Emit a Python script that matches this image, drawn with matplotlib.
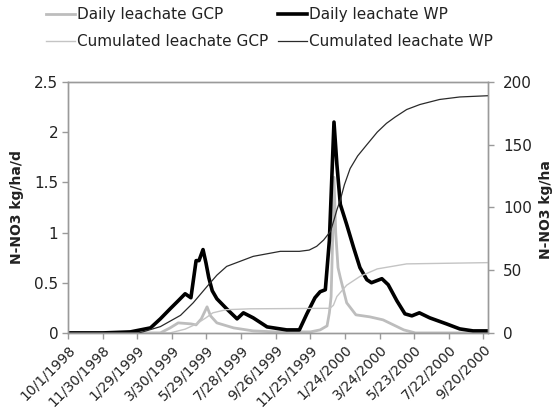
import pandas as pd
import matplotlib
matplotlib.use("Agg")
import matplotlib.pyplot as plt
from matplotlib.ticker import FuncFormatter

# ----------------------------
# values
# ----------------------------
daily_wp_dates = ["1998-10-01", "1998-12-01", "1999-01-17", "1999-02-21", "1999-03-10",
                  "1999-03-27", "1999-04-10", "1999-04-22", "1999-05-02", "1999-05-11",
                  "1999-05-16", "1999-05-23", "1999-05-28", "1999-06-02", "1999-06-08",
                  "1999-06-16", "1999-07-03", "1999-07-21", "1999-08-01", "1999-08-18",
                  "1999-09-11", "1999-10-15", "1999-11-06", "1999-11-19", "1999-12-03",
                  "1999-12-12", "1999-12-21", "1999-12-28", "2000-01-01", "2000-01-05",
                  "2000-01-10", "2000-01-16", "2000-01-27", "2000-02-08", "2000-02-19",
                  "2000-03-02", "2000-03-10", "2000-03-28", "2000-04-08", "2000-04-23",
                  "2000-05-07", "2000-05-19", "2000-06-01", "2000-06-19", "2000-07-18",
                  "2000-08-10", "2000-09-02", "2000-09-28"]
daily_wp = [0.0, 0.0, 0.01, 0.05, 0.14,
            0.24, 0.32, 0.39, 0.35, 0.72,
            0.72, 0.83, 0.70, 0.55, 0.42,
            0.34, 0.24, 0.14, 0.20, 0.15,
            0.06, 0.03, 0.03, 0.19, 0.35,
            0.41, 0.43, 0.92, 1.51, 2.10,
            1.68, 1.28, 1.08, 0.85, 0.65,
            0.53, 0.50, 0.54, 0.48, 0.32,
            0.19, 0.17, 0.20, 0.15, 0.09,
            0.04, 0.02, 0.02]

daily_gcp_dates = ["1998-10-01", "1999-03-10", "1999-03-27", "1999-04-10", "1999-05-02",
                   "1999-05-11", "1999-05-20", "1999-05-30", "1999-06-05", "1999-06-16",
                   "1999-07-15", "1999-08-18", "1999-09-26", "1999-11-25", "1999-12-12",
                   "1999-12-24", "1999-12-28", "1999-12-31", "2000-01-03", "2000-01-05",
                   "2000-01-08", "2000-01-12", "2000-01-16", "2000-01-27", "2000-02-12",
                   "2000-03-07", "2000-03-30", "2000-04-17", "2000-05-05", "2000-05-25",
                   "2000-09-28"]
daily_gcp = [0.0, 0.0, 0.05, 0.10, 0.09,
             0.08, 0.14, 0.26, 0.17, 0.10,
             0.05, 0.02, 0.01, 0.01, 0.03,
             0.07, 0.20, 0.36, 1.0, 1.55,
             1.0, 0.65, 0.55, 0.30, 0.18,
             0.16, 0.13, 0.08, 0.03, 0.0,
             0.0]

cum_wp_dates = ["1998-10-01", "1999-02-01", "1999-02-09", "1999-03-10", "1999-04-14",
                "1999-05-06", "1999-05-30", "1999-06-16", "1999-07-03", "1999-08-18",
                "1999-10-04", "1999-11-06", "1999-11-23", "1999-12-06", "1999-12-18",
                "1999-12-30", "2000-01-05", "2000-01-10", "2000-01-16", "2000-01-23",
                "2000-02-02", "2000-02-15", "2000-03-02", "2000-03-20", "2000-04-05",
                "2000-04-20", "2000-05-10", "2000-06-02", "2000-07-06", "2000-08-10",
                "2000-09-28"]
cum_wp = [0, 0, 1, 5, 14,
          24, 37, 46, 53, 61,
          65, 65, 66, 69, 74,
          81, 90, 98, 106, 118,
          131, 141, 150, 160, 167,
          172, 178, 182, 186, 188,
          189]

cum_gcp_dates = ["1998-10-01", "1999-03-27", "1999-04-22", "1999-05-11", "1999-05-28",
                 "1999-06-09", "1999-07-02", "1999-08-13", "1999-12-29", "2000-01-04",
                 "2000-01-10", "2000-01-27", "2000-02-19", "2000-03-20", "2000-05-10",
                 "2000-09-28"]
cum_gcp = [0, 0, 3, 7, 12,
           16, 18.5, 19.2, 19.6, 22,
           29, 38, 45, 51, 55,
           56]

start = pd.Timestamp("1998-10-01")
end = pd.Timestamp("2000-09-28")
tick_dates = pd.date_range(start, periods=13, freq="60D")

# ----------------------------
# figure
# ----------------------------
fig = plt.figure(figsize=(5.53, 4.11), dpi=100)
ax = fig.add_axes([0.123, 0.19, 0.7595, 0.6107])
ax2 = ax.twinx()

l1, = ax.plot(pd.to_datetime(daily_gcp_dates), daily_gcp, color="#bdbdbd", lw=2.0)
l2, = ax.plot(pd.to_datetime(daily_wp_dates), daily_wp, color="black", lw=2.6)
l3, = ax2.plot(pd.to_datetime(cum_gcp_dates), cum_gcp, color="#c4c4c4", lw=1.0)
l4, = ax2.plot(pd.to_datetime(cum_wp_dates), cum_wp, color="#2a2a2a", lw=0.9)

ax.set_xlim(start, end)
ax.set_ylim(0, 2.5)
ax2.set_ylim(0, 200)
ax.set_yticks([0, 0.5, 1, 1.5, 2, 2.5])
ax2.set_yticks([0, 50, 100, 150, 200])
ax.yaxis.set_major_formatter(FuncFormatter(lambda v, p: f"{v:g}"))

ax.set_xticks(tick_dates)
ax.set_xticklabels([f"{d.month}/{d.day}/{d.year}" for d in tick_dates],
                   rotation=45, ha="right", rotation_mode="anchor", fontsize=10)

for a in (ax, ax2):
    for s in a.spines.values():
        s.set_color("#9a9a9a")
        s.set_linewidth(1.0)
    a.tick_params(colors="#9a9a9a", labelcolor="#222222", length=4, width=1,
                  direction="out", labelsize=11)
ax.tick_params(axis="x", labelsize=10, pad=3)
ax.tick_params(axis="y", pad=3)
ax2.tick_params(axis="y", pad=7)

ax.set_ylabel("N-NO3 kg/ha/d", fontsize=10, fontweight="bold", color="#222222")
ax2.set_ylabel("N-NO3 kg/ha", fontsize=10, fontweight="bold", color="#222222",
               rotation=90)
ax.yaxis.set_label_coords(-0.105, 0.5)
ax2.yaxis.set_label_coords(1.121, 0.49)

# legend is filled column by column, so order it to read row-wise like the original
fig.legend([l1, l3, l2, l4],
           ["Daily leachate GCP", "Cumulated leachate GCP",
            "Daily leachate WP", "Cumulated leachate WP"],
           loc="upper left", bbox_to_anchor=(0.083, 0.983), ncol=2, frameon=False,
           fontsize=11, handlelength=1.9, handletextpad=0.15, columnspacing=0.6,
           labelspacing=0.79, borderpad=0, borderaxespad=0, labelcolor="#222222")

fig.savefig("out.png", dpi=100)
